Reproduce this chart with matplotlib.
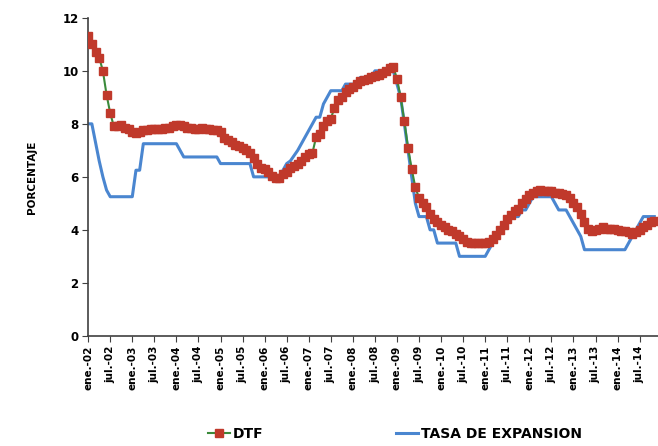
import numpy as np
import matplotlib
matplotlib.use("Agg")
from matplotlib import pyplot as plt

# monthly values, ene-2002 .. nov-2014
dtf = [
    11.3, 11.0, 10.7, 10.5, 10.0, 9.1, 8.4, 7.9, 7.9, 7.95, 7.85, 7.8,       # 2002
    7.7, 7.65, 7.7, 7.75, 7.75, 7.8, 7.8, 7.8, 7.8, 7.85, 7.85, 7.9,         # 2003
    7.95, 7.95, 7.9, 7.85, 7.85, 7.8, 7.8, 7.85, 7.8, 7.8, 7.75, 7.75,       # 2004
    7.7, 7.45, 7.4, 7.3, 7.2, 7.15, 7.1, 7.0, 6.9, 6.7, 6.5, 6.35,           # 2005
    6.3, 6.2, 6.05, 5.95, 5.95, 6.1, 6.2, 6.35, 6.4, 6.5, 6.6, 6.75,         # 2006
    6.85, 6.9, 7.5, 7.6, 7.9, 8.1, 8.2, 8.6, 8.9, 9.0, 9.2, 9.3,             # 2007
    9.4, 9.5, 9.6, 9.65, 9.7, 9.75, 9.8, 9.85, 9.9, 10.0, 10.1, 10.15,       # 2008
    9.7, 9.0, 8.1, 7.1, 6.3, 5.6, 5.2, 5.0, 4.85, 4.6, 4.4, 4.3,             # 2009
    4.2, 4.1, 4.0, 3.95, 3.85, 3.75, 3.65, 3.55, 3.5, 3.5, 3.5, 3.5,         # 2010
    3.5, 3.55, 3.65, 3.8, 4.0, 4.2, 4.4, 4.55, 4.7, 4.8, 5.0, 5.15,          # 2011
    5.3, 5.4, 5.45, 5.5, 5.45, 5.45, 5.45, 5.4, 5.4, 5.35, 5.3, 5.2,         # 2012
    5.0, 4.85, 4.6, 4.3, 4.05, 3.95, 4.0, 4.05, 4.1, 4.05, 4.05, 4.05,       # 2013
    4.0, 3.95, 3.95, 3.9, 3.85, 3.9, 4.0, 4.1, 4.2, 4.3, 4.35,               # 2014
]

tasa = [
    8.0, 8.0, 7.3, 6.6, 6.0, 5.5, 5.25, 5.25, 5.25, 5.25, 5.25, 5.25,        # 2002
    5.25, 6.25, 6.25, 7.25, 7.25, 7.25, 7.25, 7.25, 7.25, 7.25, 7.25, 7.25,  # 2003
    7.25, 7.0, 6.75, 6.75, 6.75, 6.75, 6.75, 6.75, 6.75, 6.75, 6.75, 6.75,   # 2004
    6.5, 6.5, 6.5, 6.5, 6.5, 6.5, 6.5, 6.5, 6.5, 6.0, 6.0, 6.0,              # 2005
    6.0, 6.0, 5.95, 5.9, 6.0, 6.25, 6.5, 6.6, 6.8, 7.0, 7.25, 7.5,           # 2006
    7.75, 8.0, 8.25, 8.25, 8.75, 9.0, 9.25, 9.25, 9.25, 9.25, 9.5, 9.5,      # 2007
    9.5, 9.5, 9.75, 9.75, 9.75, 9.75, 10.0, 10.0, 10.0, 10.0, 10.0, 10.0,    # 2008
    9.5, 9.0, 8.0, 7.0, 6.0, 5.0, 4.5, 4.5, 4.5, 4.0, 4.0, 3.5,              # 2009
    3.5, 3.5, 3.5, 3.5, 3.5, 3.0, 3.0, 3.0, 3.0, 3.0, 3.0, 3.0,              # 2010
    3.0, 3.25, 3.5, 3.75, 4.0, 4.0, 4.25, 4.5, 4.5, 4.5, 4.75, 4.75,         # 2011
    5.0, 5.25, 5.25, 5.25, 5.25, 5.25, 5.25, 5.0, 4.75, 4.75, 4.75, 4.5,     # 2012
    4.25, 4.0, 3.75, 3.25, 3.25, 3.25, 3.25, 3.25, 3.25, 3.25, 3.25, 3.25,   # 2013
    3.25, 3.25, 3.25, 3.5, 3.75, 4.0, 4.25, 4.5, 4.5, 4.5, 4.5,              # 2014
]

years = [f"{y:02d}" for y in range(2, 15)]
tick_labels = [f"{m}-{y}" for y in years for m in ("ene.", "jul.")]

months = np.arange(len(dtf))

fig = plt.figure(figsize=(6.58, 4.46), dpi=100)
ax = fig.add_axes([0.134, 0.247, 0.866, 0.713])

ax.plot(months, tasa, color="#4A86D0", lw=2.2, label="TASA DE EXPANSION", zorder=2)
ax.plot(months, dtf, color="#3A8A3A", lw=1.5, marker="s", markersize=5.2,
        markerfacecolor="#C0392B", markeredgecolor="#C0392B", label="DTF", zorder=3)

ax.set_ylim(0, 12)
ax.set_yticks(range(0, 13, 2))
ax.set_xlim(0, 155)
ax.set_xticks(range(0, 6 * len(tick_labels), 6))
ax.set_xticklabels(tick_labels, rotation=90, fontsize=7.5, fontweight="bold")
for lab in ax.get_yticklabels():
    lab.set_fontweight("bold")
    lab.set_fontsize(8.5)
ax.tick_params(axis="both", direction="out", length=4, color="#404040", pad=3)
ax.spines["top"].set_visible(False)
ax.spines["right"].set_visible(False)
ax.spines["left"].set_color("#404040")
ax.spines["bottom"].set_color("#404040")
ax.spines["left"].set_linewidth(1.2)
ax.spines["bottom"].set_linewidth(1.2)
ax.set_ylabel("PORCENTAJE", fontsize=7.5, fontweight="bold", labelpad=18)

handles, labels = ax.get_legend_handles_labels()
fig.legend(handles[::-1], labels[::-1], loc="center", bbox_to_anchor=(0.6, 0.027),
           ncol=2, frameon=False, columnspacing=9.5, handlelength=1.6,
           handletextpad=0.2, prop={"weight": "bold", "size": 10})

fig.savefig("out.png", dpi=100)
